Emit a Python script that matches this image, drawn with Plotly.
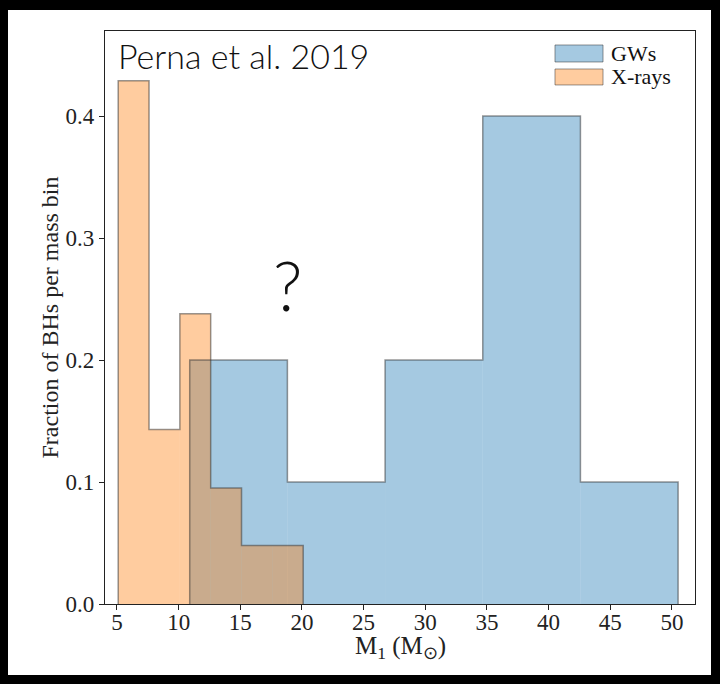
import numpy as np
import plotly.graph_objects as go

# Primary-mass histograms (fraction of BHs per mass bin)
gw_edges = [10.9, 18.82, 26.74, 34.66, 42.58, 50.5]
gw_frac = [0.2, 0.1, 0.2, 0.4, 0.1]

xr_edges = [5.1, 7.6, 10.1, 12.6, 15.1, 17.6, 20.1]
xr_frac = [0.429, 0.143, 0.238, 0.095, 0.048, 0.048]

x_ticks = [5, 10, 15, 20, 25, 30, 35, 40, 45, 50]
y_ticks = [0.0, 0.1, 0.2, 0.3, 0.4]

GW_FILL = "rgba(31,119,180,0.4)"
XR_FILL = "rgba(255,127,14,0.4)"
EDGE = "rgba(50,50,50,0.5)"
SERIF = "Liberation Serif, Times New Roman, serif"
THIN = "Lato, Roboto, Open Sans, sans-serif"


def bars(edges, vals, color, name):
    e = np.asarray(edges, dtype=float)
    return go.Bar(
        x=(e[:-1] + e[1:]) / 2, y=vals, width=np.diff(e),
        marker=dict(color=color, line=dict(width=0)),
        name=name, showlegend=False, hoverinfo="skip",
    )


def outline(edges, vals):
    xs, ys = [edges[0]], [0.0]
    for i, v in enumerate(vals):
        xs += [edges[i], edges[i + 1]]
        ys += [v, v]
    xs.append(edges[-1])
    ys.append(0.0)
    return go.Scatter(x=xs, y=ys, mode="lines", line=dict(color=EDGE, width=1.5),
                      showlegend=False, hoverinfo="skip")


fig = go.Figure()
fig.add_trace(bars(gw_edges, gw_frac, GW_FILL, "GWs"))
fig.add_trace(outline(gw_edges, gw_frac))
fig.add_trace(bars(xr_edges, xr_frac, XR_FILL, "X-rays"))
fig.add_trace(outline(xr_edges, xr_frac))

# white card on a black page
shapes = [dict(type="rect", xref="paper", yref="paper", layer="below",
               x0=(8 - 105) / 590, x1=(711 - 105) / 590,
               y0=(604 - 675) / 573, y1=(604 - 10) / 573,
               fillcolor="white", line=dict(width=0))]

# legend patches
legend_items = [("GWs", GW_FILL, 0.9756, 0.9459), ("X-rays", XR_FILL, 0.9337, 0.9058)]
annotations = []
for label, col, ya, yb in legend_items:
    shapes.append(dict(type="rect", xref="paper", yref="paper",
                       x0=0.7627, x1=0.8441, y0=yb, y1=ya,
                       fillcolor=col, line=dict(color=EDGE, width=1)))
    annotations.append(dict(text=label, xref="paper", yref="paper",
                            x=0.855, y=(ya + yb) / 2, xanchor="left", yanchor="middle",
                            showarrow=False, font=dict(family=SERIF, size=22, color="#111")))

annotations.append(dict(text="Perna et al. 2019", xref="paper", yref="paper",
                        x=0.018, y=0.958, xanchor="left", yanchor="middle", showarrow=False,
                        font=dict(family=THIN, size=34, color="#111", weight=300)))
annotations.append(dict(text="?", xref="x", yref="y", x=18.8, y=0.2615,
                        xanchor="center", yanchor="middle", showarrow=False,
                        font=dict(family=THIN, size=68, color="#111", weight=300)))
# x-axis title
annotations.append(dict(text="M<sub>1</sub> (M<sub>⊙</sub>)", xref="paper", yref="paper",
                        x=0.5, y=-0.046, xanchor="center", yanchor="top", showarrow=False,
                        font=dict(family=SERIF, size=25, color="#222")))

axis_common = dict(showline=True, linecolor="#222", linewidth=1.2, mirror=True,
                   ticks="outside", ticklen=5, tickcolor="#222", showgrid=False,
                   zeroline=False, tickfont=dict(family=SERIF, size=23, color="#222"))

fig.update_layout(
    width=720, height=684,
    margin=dict(l=105, r=25, t=31, b=80),
    paper_bgcolor="black", plot_bgcolor="white",
    barmode="overlay", showlegend=False,
    shapes=shapes, annotations=annotations,
    xaxis=dict(range=[4.03, 51.87], tickvals=x_ticks, ticklabelstandoff=-8,
               **axis_common),
    yaxis=dict(range=[0, 0.4697], tickvals=y_ticks, tickformat=".1f",
               title=dict(text="Fraction of BHs per mass bin",
                          font=dict(family=SERIF, size=24, color="#222"), standoff=0),
               **axis_common),
)

fig.write_html("out.html")
